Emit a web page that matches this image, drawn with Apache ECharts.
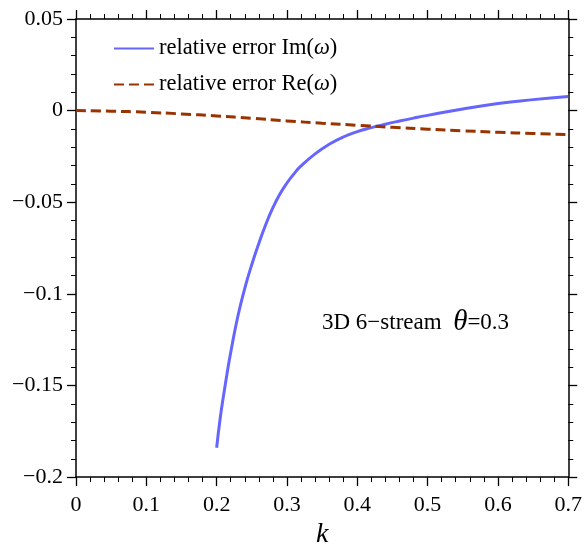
<!DOCTYPE html>
<html><head><meta charset="utf-8">
<script src="https://cdn.jsdelivr.net/npm/echarts@6/dist/echarts.min.js"></script>
<style>html,body{margin:0;padding:0;background:#fff}#c{width:585px;height:554px}</style>
</head><body><div id="c"></div>
<script>
const imK = [0.200,0.205,0.210,0.215,0.220,0.230,0.240,0.250,0.260,0.270,0.280,0.290,0.300,0.310,0.320,0.340,0.360,0.380,0.400,0.420,0.440,0.460,0.480,0.500,0.550,0.600,0.650,0.700];
const imVal = [-0.184,-0.168,-0.155,-0.143,-0.132,-0.1125,-0.097,-0.084,-0.0725,-0.0620,-0.0530,-0.0455,-0.0395,-0.0345,-0.0302,-0.0236,-0.0184,-0.0144,-0.0115,-0.0093,-0.0074,-0.0057,-0.0041,-0.0026,0.0009,0.0039,0.0060,0.0077];
const reK = [0,0.05,0.1,0.15,0.2,0.25,0.3,0.35,0.4,0.45,0.5,0.55,0.6,0.65,0.7];
const reVal = [0,-0.0003,-0.0009,-0.0018,-0.0029,-0.0042,-0.0056,-0.0069,-0.0080,-0.0091,-0.0101,-0.0110,-0.0118,-0.0125,-0.0131];
const seriesNames = ['relative error Im(ω)','relative error Re(ω)'];

const FONT = '"Liberation Serif","DejaVu Serif",serif';
const minus = v => String(v).replace('-', '\u2212');
const axisLine = {show:true, onZero:false, lineStyle:{color:'#000', width:1.5}};
const tick = {length:9, lineStyle:{color:'#000', width:1.3}};
const minor = {show:true, splitNumber:5, length:5, lineStyle:{color:'#000', width:1}};
const chart = echarts.init(document.getElementById('c'));
chart.setOption({
  animation:false,
  grid:{left:76, right:14, top:19, bottom:64},
  legend:{
    orient:'vertical', left:108, top:32, itemWidth:40, itemHeight:14, itemGap:13,
    data: seriesNames,
    itemStyle:{opacity:0},
    textStyle:{fontFamily:FONT, fontSize:22.5, color:'#000',
      rich:{i:{fontFamily:FONT, fontStyle:'italic', fontSize:22.5, color:'#000'}}},
    formatter: n => n.replace('ω', '{i|ω}')
  },
  xAxis:[
    {type:'value', min:0, max:0.7, interval:0.1, position:'bottom',
     axisLine, axisTick:tick, minorTick:minor, splitLine:{show:false},
     axisLabel:{fontFamily:FONT, fontSize:22, color:'#000', margin:17, formatter:v=>minus(+v.toFixed(1))},
     name:'k', nameLocation:'middle', nameGap:40,
     nameTextStyle:{fontFamily:FONT, fontStyle:'italic', fontSize:28, color:'#000'}},
    {type:'value', min:0, max:0.7, interval:0.1, position:'top',
     axisLine, axisTick:tick, minorTick:minor, splitLine:{show:false}, axisLabel:{show:false}}
  ],
  yAxis:[
    {type:'value', min:-0.2, max:0.05, interval:0.05, position:'left',
     axisLine, axisTick:tick, minorTick:minor, splitLine:{show:false},
     axisLabel:{fontFamily:FONT, fontSize:22, color:'#000', margin:13, formatter:v=>minus(+v.toFixed(2))}},
    {type:'value', min:-0.2, max:0.05, interval:0.05, position:'right',
     axisLine, axisTick:tick, minorTick:minor, splitLine:{show:false}, axisLabel:{show:false}}
  ],
  series:[
    {name:seriesNames[0], type:'line', smooth:0.5, symbol:'none',
     data: imK.map((k,i)=>[k, imVal[i]]),
     lineStyle:{color:'#6666ff', width:3}, itemStyle:{color:'#6666ff'}},
    {name:seriesNames[1], type:'line', smooth:0.5, symbol:'none',
     data: reK.map((k,i)=>[k, reVal[i]]),
     lineStyle:{color:'#993300', width:3, type:[10,5]}, itemStyle:{color:'#993300'}}
  ],
  graphic:[{
    type:'text', left:322, top:308,
    style:{text:'3D 6\u2212stream  {t|θ}=0.3', fontFamily:FONT, fontSize:23, fill:'#000',
      rich:{t:{fontFamily:FONT, fontStyle:'italic', fontSize:29, fill:'#000'}}}
  }]
});
</script></body></html>
